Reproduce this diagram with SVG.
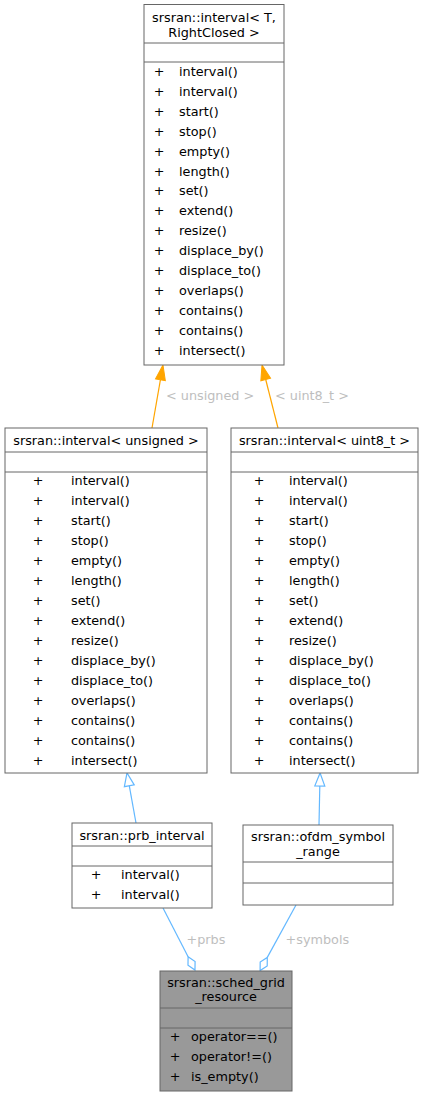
<svg xmlns="http://www.w3.org/2000/svg" width="423" height="1096" viewBox="0 0 423 1096">
<style>
text{font-family:"DejaVu Sans","Liberation Sans",sans-serif;font-size:12.8px;fill:#000}
.c{text-anchor:middle}
.lbl{fill:#bebebe;font-size:12.8px}
.box{fill:#fff;stroke:#666;stroke-width:1}
.boxd{fill:#999;stroke:#666;stroke-width:1}
.sep{stroke:#666;stroke-width:1}
.eo{fill:none;stroke:#ffa500;stroke-width:1.2}
.eb{fill:none;stroke:#63b8ff;stroke-width:1.2}
</style>
<defs>
<marker id="ao" markerUnits="userSpaceOnUse" markerWidth="16" markerHeight="12" refX="0" refY="6" orient="auto" overflow="visible">
<path d="M0,1 L15,6 L0,11 z" fill="#ffa500" stroke="#ffa500"/>
</marker>
<marker id="ab" markerUnits="userSpaceOnUse" markerWidth="16" markerHeight="12" refX="0" refY="6" orient="auto" overflow="visible">
<path d="M0,1 L13,6 L0,11 z" fill="#fff" stroke="#63b8ff" stroke-width="1.2"/>
</marker>
<marker id="ad" markerUnits="userSpaceOnUse" markerWidth="16" markerHeight="12" refX="0" refY="6" orient="auto" overflow="visible">
<path d="M0,6 L7.5,2 L15,6 L7.5,10 z" fill="#fff" stroke="#63b8ff" stroke-width="1.2"/>
</marker>
</defs>

<g id="connectors">
<path class="eo" d="M152,428 L160.4,379.8" marker-end="url(#ao)"/>
<text class="lbl" x="166" y="399.5">&lt; unsigned &gt;</text>
<path class="eo" d="M278,428 L265.7,379.5" marker-end="url(#ao)"/>
<text class="lbl" x="275" y="399.5">&lt; uint8_t &gt;</text>
<path class="eb" d="M136,823 L129.3,785.8" marker-end="url(#ab)"/>
<path class="eb" d="M319,825 L319.8,786" marker-end="url(#ab)"/>
<path class="eb" d="M163,908 L188.1,956.7" marker-end="url(#ad)"/>
<text class="lbl" x="186.5" y="943.5">+prbs</text>
<path class="eb" d="M296,905 L267.3,957.4" marker-end="url(#ad)"/>
<text class="lbl" x="285.5" y="943.5">+symbols</text>
</g>

<g id="node_interval_T">
<rect class="box" x="144" y="4.5" width="140" height="360.5"/>
<line class="sep" x1="144" y1="43" x2="284" y2="43"/>
<line class="sep" x1="144" y1="62" x2="284" y2="62"/>
<text class="c" x="214" y="21.5">srsran::interval&lt; T,</text>
<text class="c" x="214" y="36.5">RightClosed &gt;</text>
<g>
<text class="c" x="159" y="76">+</text><text x="179" y="76">interval()</text>
<text class="c" x="159" y="95.9">+</text><text x="179" y="95.9">interval()</text>
<text class="c" x="159" y="115.8">+</text><text x="179" y="115.8">start()</text>
<text class="c" x="159" y="135.7">+</text><text x="179" y="135.7">stop()</text>
<text class="c" x="159" y="155.6">+</text><text x="179" y="155.6">empty()</text>
<text class="c" x="159" y="175.5">+</text><text x="179" y="175.5">length()</text>
<text class="c" x="159" y="195.4">+</text><text x="179" y="195.4">set()</text>
<text class="c" x="159" y="215.3">+</text><text x="179" y="215.3">extend()</text>
<text class="c" x="159" y="235.2">+</text><text x="179" y="235.2">resize()</text>
<text class="c" x="159" y="255.1">+</text><text x="179" y="255.1">displace_by()</text>
<text class="c" x="159" y="275">+</text><text x="179" y="275">displace_to()</text>
<text class="c" x="159" y="294.9">+</text><text x="179" y="294.9">overlaps()</text>
<text class="c" x="159" y="314.8">+</text><text x="179" y="314.8">contains()</text>
<text class="c" x="159" y="334.7">+</text><text x="179" y="334.7">contains()</text>
<text class="c" x="159" y="354.6">+</text><text x="179" y="354.6">intersect()</text>
</g>
</g>

<g id="node_interval_unsigned">
<rect class="box" x="5" y="428" width="202" height="345"/>
<line class="sep" x1="5" y1="452" x2="207" y2="452"/>
<line class="sep" x1="5" y1="472" x2="207" y2="472"/>
<text class="c" x="106" y="445">srsran::interval&lt; unsigned &gt;</text>
<text class="c" x="38" y="485">+</text><text x="71" y="485">interval()</text>
<text class="c" x="38" y="505">+</text><text x="71" y="505">interval()</text>
<text class="c" x="38" y="525">+</text><text x="71" y="525">start()</text>
<text class="c" x="38" y="545">+</text><text x="71" y="545">stop()</text>
<text class="c" x="38" y="565">+</text><text x="71" y="565">empty()</text>
<text class="c" x="38" y="585">+</text><text x="71" y="585">length()</text>
<text class="c" x="38" y="605">+</text><text x="71" y="605">set()</text>
<text class="c" x="38" y="625">+</text><text x="71" y="625">extend()</text>
<text class="c" x="38" y="645">+</text><text x="71" y="645">resize()</text>
<text class="c" x="38" y="665">+</text><text x="71" y="665">displace_by()</text>
<text class="c" x="38" y="685">+</text><text x="71" y="685">displace_to()</text>
<text class="c" x="38" y="705">+</text><text x="71" y="705">overlaps()</text>
<text class="c" x="38" y="725">+</text><text x="71" y="725">contains()</text>
<text class="c" x="38" y="745">+</text><text x="71" y="745">contains()</text>
<text class="c" x="38" y="765">+</text><text x="71" y="765">intersect()</text>
</g>

<g id="node_interval_uint8">
<rect class="box" x="231" y="428" width="187" height="345"/>
<line class="sep" x1="231" y1="452" x2="418" y2="452"/>
<line class="sep" x1="231" y1="472" x2="418" y2="472"/>
<text class="c" x="324.5" y="445">srsran::interval&lt; uint8_t &gt;</text>
<text class="c" x="259" y="485">+</text><text x="289" y="485">interval()</text>
<text class="c" x="259" y="505">+</text><text x="289" y="505">interval()</text>
<text class="c" x="259" y="525">+</text><text x="289" y="525">start()</text>
<text class="c" x="259" y="545">+</text><text x="289" y="545">stop()</text>
<text class="c" x="259" y="565">+</text><text x="289" y="565">empty()</text>
<text class="c" x="259" y="585">+</text><text x="289" y="585">length()</text>
<text class="c" x="259" y="605">+</text><text x="289" y="605">set()</text>
<text class="c" x="259" y="625">+</text><text x="289" y="625">extend()</text>
<text class="c" x="259" y="645">+</text><text x="289" y="645">resize()</text>
<text class="c" x="259" y="665">+</text><text x="289" y="665">displace_by()</text>
<text class="c" x="259" y="685">+</text><text x="289" y="685">displace_to()</text>
<text class="c" x="259" y="705">+</text><text x="289" y="705">overlaps()</text>
<text class="c" x="259" y="725">+</text><text x="289" y="725">contains()</text>
<text class="c" x="259" y="745">+</text><text x="289" y="745">contains()</text>
<text class="c" x="259" y="765">+</text><text x="289" y="765">intersect()</text>
</g>

<g id="node_prb_interval">
<rect class="box" x="72" y="823" width="140" height="85"/>
<line class="sep" x1="72" y1="846" x2="212" y2="846"/>
<line class="sep" x1="72" y1="866" x2="212" y2="866"/>
<text class="c" x="142" y="839.5">srsran::prb_interval</text>
<text class="c" x="96" y="879">+</text><text x="121" y="879">interval()</text>
<text class="c" x="96" y="898.5">+</text><text x="121" y="898.5">interval()</text>
</g>

<g id="node_ofdm_symbol_range">
<rect class="box" x="243" y="825" width="150" height="80"/>
<line class="sep" x1="243" y1="862" x2="393" y2="862"/>
<line class="sep" x1="243" y1="883" x2="393" y2="883"/>
<text class="c" x="318" y="841">srsran::ofdm_symbol</text>
<text class="c" x="318" y="856">_range</text>
</g>

<g id="node_sched_grid_resource">
<rect class="boxd" x="160" y="971" width="132" height="120"/>
<line class="sep" x1="160" y1="1008" x2="292" y2="1008"/>
<line class="sep" x1="160" y1="1028" x2="292" y2="1028"/>
<text class="c" x="226" y="986.5">srsran::sched_grid</text>
<text class="c" x="226" y="1001">_resource</text>
<text class="c" x="175" y="1041">+</text><text x="191" y="1041">operator==()</text>
<text class="c" x="175" y="1061">+</text><text x="191" y="1061">operator!=()</text>
<text class="c" x="175" y="1080.5">+</text><text x="191" y="1080.5">is_empty()</text>
</g>
</svg>
